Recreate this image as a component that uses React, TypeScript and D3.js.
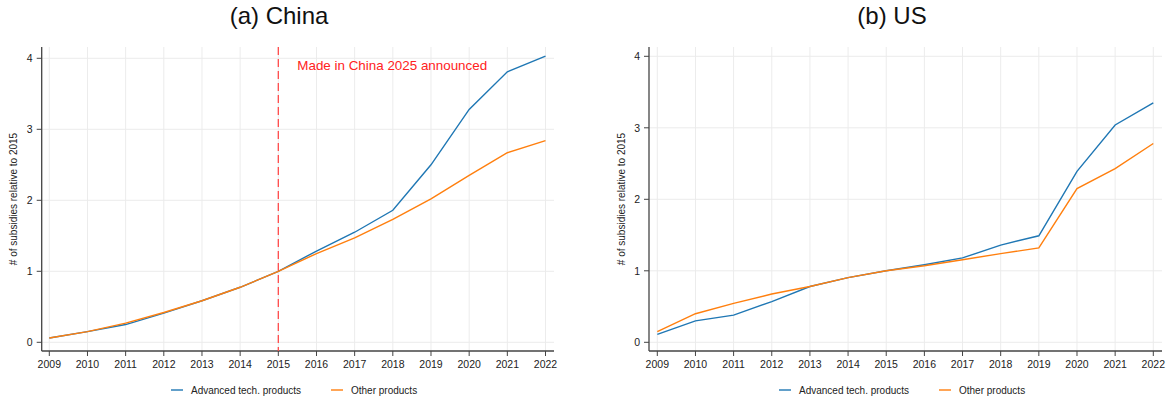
import React from "react";
import * as d3 from "d3";

// Years on the x axis
const years = [2009, 2010, 2011, 2012, 2013, 2014, 2015, 2016, 2017, 2018, 2019, 2020, 2021, 2022];
const yTicks = [0, 1, 2, 3, 4];

// Number of subsidies relative to 2015 — China
const chinaAdvanced = [0.06, 0.15, 0.25, 0.41, 0.585, 0.775, 1.0, 1.285, 1.55, 1.86, 2.5, 3.28, 3.81, 4.03];
const chinaOther = [0.06, 0.15, 0.27, 0.42, 0.585, 0.775, 1.0, 1.25, 1.47, 1.73, 2.02, 2.35, 2.67, 2.84];

// Number of subsidies relative to 2015 — US
const usAdvanced = [0.11, 0.3, 0.38, 0.57, 0.78, 0.905, 1.0, 1.085, 1.18, 1.36, 1.49, 2.39, 3.04, 3.35];
const usOther = [0.15, 0.4, 0.545, 0.675, 0.78, 0.905, 1.0, 1.07, 1.155, 1.24, 1.32, 2.15, 2.43, 2.78];

const seriesNames = ["Advanced tech. products", "Other products"];
const BLUE = "#1f77b4";
const ORANGE = "#ff7f0e";
const FONT = "'Liberation Sans', Arial, Helvetica, sans-serif";

type PanelProps = {
  title: string;
  titleX: number;
  axisX: number;
  axisEnd: number;
  xFirst: number;
  xLast: number;
  yZero: number;
  yFour: number;
  labelX: number;
  advanced: number[];
  other: number[];
  legendX: number;
  marker?: { year: number; text: string };
};

const TOP = 47;
const BOTTOM = 351;

function Panel(p: PanelProps) {
  const x = d3.scaleLinear().domain([years[0], years[years.length - 1]]).range([p.xFirst, p.xLast]);
  const y = d3.scaleLinear().domain([0, 4]).range([p.yZero, p.yFour]);
  const line = d3
    .line<number>()
    .x((_, i) => x(years[i]))
    .y((v) => y(v));
  const midY = (TOP + BOTTOM) / 2;
  return (
    <g>
      <text x={p.titleX} y={24} textAnchor="middle" fontSize={24} fontFamily={FONT} fill="#111">
        {p.title}
      </text>
      {/* grid */}
      {years.map((yr) => (
        <line key={"gx" + yr} x1={x(yr)} x2={x(yr)} y1={TOP} y2={BOTTOM} stroke="#ececec" strokeWidth={1} />
      ))}
      {yTicks.map((t) => (
        <line key={"gy" + t} x1={p.axisX} x2={p.axisEnd} y1={y(t)} y2={y(t)} stroke="#ececec" strokeWidth={1} />
      ))}
      {/* axes */}
      <line x1={p.axisX} x2={p.axisX} y1={TOP} y2={BOTTOM} stroke="#444" strokeWidth={1.3} />
      <line x1={p.axisX} x2={p.axisEnd} y1={BOTTOM} y2={BOTTOM} stroke="#444" strokeWidth={1.3} />
      {yTicks.map((t) => (
        <g key={"ty" + t}>
          <line x1={p.axisX - 5} x2={p.axisX} y1={y(t)} y2={y(t)} stroke="#444" strokeWidth={1} />
          <text x={p.axisX - 9} y={y(t) + 3.8} textAnchor="end" fontSize={10.5} fontFamily={FONT} fill="#222">
            {t}
          </text>
        </g>
      ))}
      {years.map((yr) => (
        <g key={"tx" + yr}>
          <line x1={x(yr)} x2={x(yr)} y1={BOTTOM} y2={BOTTOM + 5} stroke="#444" strokeWidth={1} />
          <text x={x(yr)} y={BOTTOM + 17} textAnchor="middle" fontSize={10.5} fontFamily={FONT} fill="#222">
            {yr}
          </text>
        </g>
      ))}
      <text
        transform={`translate(${p.labelX},${midY}) rotate(-90)`}
        textAnchor="middle"
        fontSize={10}
        fontFamily={FONT}
        fill="#222"
      >
        # of subsidies relative to 2015
      </text>
      {p.marker && (
        <g>
          <line
            x1={x(p.marker.year)}
            x2={x(p.marker.year)}
            y1={TOP}
            y2={BOTTOM}
            stroke="#ff4b4b"
            strokeWidth={1.3}
            strokeDasharray="8,4"
          />
          <text x={x(p.marker.year) + 19} y={70} fontSize={13.4} fontFamily={FONT} fill="#ff2222">
            {p.marker.text}
          </text>
        </g>
      )}
      <path d={line(p.advanced) || ""} fill="none" stroke={BLUE} strokeWidth={1.4} />
      <path d={line(p.other) || ""} fill="none" stroke={ORANGE} strokeWidth={1.4} />
      {/* legend */}
      <g transform={`translate(${p.legendX},390)`}>
        <line x1={0} x2={12} y1={0} y2={0} stroke={BLUE} strokeWidth={1.4} />
        <text x={20} y={3.6} fontSize={10} fontFamily={FONT} fill="#222">
          {seriesNames[0]}
        </text>
        <line x1={160} x2={172} y1={0} y2={0} stroke={ORANGE} strokeWidth={1.4} />
        <text x={180} y={3.6} fontSize={10} fontFamily={FONT} fill="#222">
          {seriesNames[1]}
        </text>
      </g>
    </g>
  );
}

export default function App() {
  return (
    <svg width={1171} height={402} style={{ position: "absolute", left: 0, top: 0, background: "#fff" }}>
      <rect width={1171} height={402} fill="#fff" />
      <Panel
        title="(a) China"
        titleX={279}
        axisX={41.7}
        axisEnd={554}
        xFirst={49.3}
        xLast={545.5}
        yZero={342.3}
        yFour={58.3}
        labelX={17}
        advanced={chinaAdvanced}
        other={chinaOther}
        legendX={171}
        marker={{ year: 2015, text: "Made in China 2025 announced" }}
      />
      <Panel
        title="(b) US"
        titleX={892}
        axisX={649}
        axisEnd={1162}
        xFirst={657.3}
        xLast={1153.3}
        yZero={342.3}
        yFour={56.3}
        labelX={625}
        advanced={usAdvanced}
        other={usOther}
        legendX={779}
      />
    </svg>
  );
}
